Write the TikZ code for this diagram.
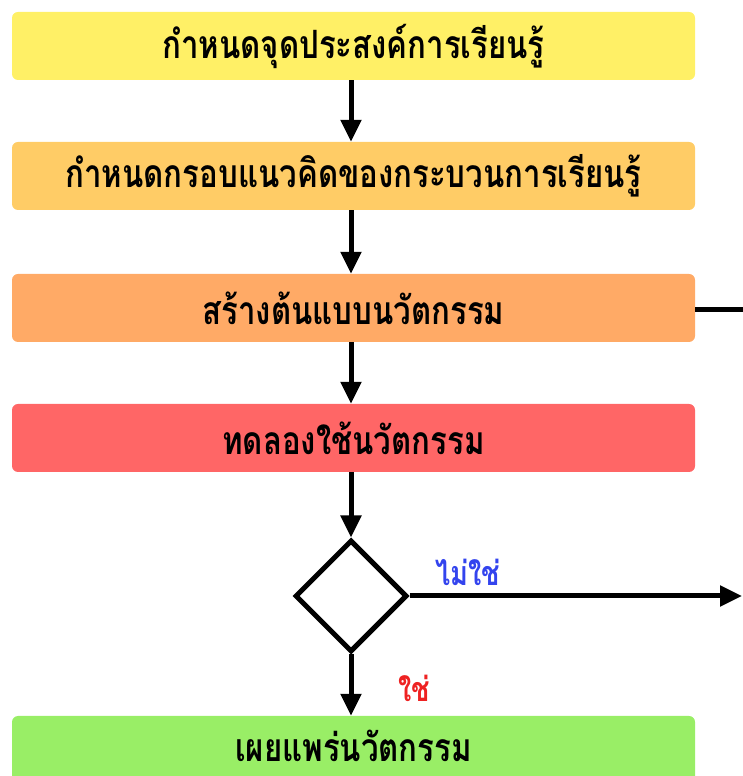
\documentclass[tikz,border=0pt]{standalone}
\usepackage{fontspec}
\newfontfamily\thaifont[Script=Thai,FakeStretch=0.8]{Loma}
\usetikzlibrary{arrows.meta,shapes.geometric}
\definecolor{cA}{HTML}{FFF066}
\definecolor{cB}{HTML}{FFCC66}
\definecolor{cC}{HTML}{FFAA66}
\definecolor{cD}{HTML}{FF6666}
\definecolor{cE}{HTML}{99EE66}
\definecolor{lblue}{HTML}{3344EE}
\definecolor{lred}{HTML}{EE2222}
\begin{document}
\begin{tikzpicture}[x=1pt,y=1pt,
  stepbox/.style={rounded corners=6pt,minimum width=683pt,minimum height=68pt,inner sep=0pt,font=\thaifont\bfseries\fontsize{39}{42}\selectfont},
  flow/.style={line width=5pt,-{Triangle[length=22pt,width=20pt]}},
  plain/.style={line width=5pt},
  lbl/.style={font=\thaifont\bfseries\fontsize{34}{36}\selectfont}]
\useasboundingbox (0,0) rectangle (742,776);
\node[stepbox,fill=cA] (s1) at (353.5,730) {กำหนดจุดประสงค์การเรียนรู้};
\node[stepbox,fill=cB] (s2) at (353.5,600) {กำหนดกรอบแนวคิดของกระบวนการเรียนรู้};
\node[stepbox,fill=cC] (s3) at (353.5,468) {สร้างต้นแบบนวัตกรรม};
\node[stepbox,fill=cD] (s4) at (353.5,338) {ทดลองใช้นวัตกรรม};
\node[draw,line width=5pt,diamond,minimum width=112pt,minimum height=112pt,inner sep=0pt] (d) at (351,180) {};
\node[stepbox,fill=cE] (s5) at (353.5,26) {\raisebox{8pt}{เผยแพร่นวัตกรรม}};
\coordinate (r3) at (746,466);
\coordinate (rd) at (742,180);
\draw[flow] (s1.south -| d) -- (s2.north -| d);
\draw[flow] (s2.south -| d) -- (s3.north -| d);
\draw[flow] (s3.south -| d) -- (s4.north -| d);
\draw[flow] (s4.south -| d) -- (d.north);
\draw[flow] (d.south) -- (s5.north -| d);
\draw[plain] (s3.east |- r3) -- (r3);
\draw[flow] (d.east) -- (rd);
\node[lbl,text=lblue] (no) at (468,204) {ไม่ใช่};
\node[lbl,text=lred] (yes) at (414,88) {ใช่};
\end{tikzpicture}
\end{document}
